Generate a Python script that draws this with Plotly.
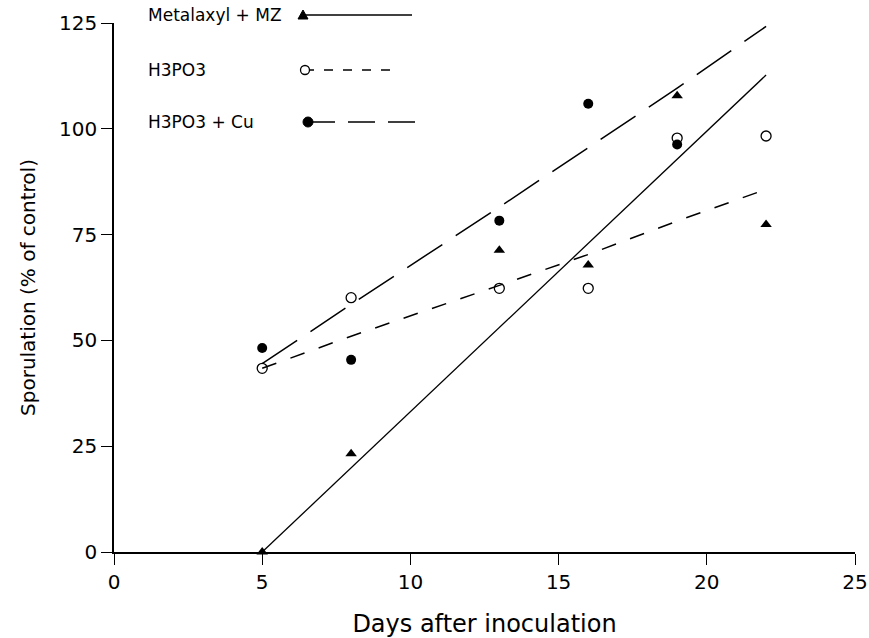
import plotly.graph_objects as go

# ---- data ----
days = [5, 8, 13, 16, 19, 22]
metalaxyl = [0.0, 23.2, 71.3, 67.8, 107.8, 77.4]
h3po3 = [43.4, 60.1, 62.3, 62.3, 97.8, 98.3]
h3po3_cu = [48.2, 45.4, 78.3, 105.9, 96.3, 125.9]

# fitted curves as drawn in the picture (read at the sampling days)
fit_days = [5, 8, 13, 16, 19, 22]
metalaxyl_fit = [0.0, 19.9, 53.0, 72.9, 92.8, 112.7]
h3po3_fit = [43.4, 51.0, 63.0, 70.3, 78.2, 85.7]
h3po3_cu_fit = [44.5, 58.5, 81.5, 95.5, 109.6, 124.2]

x_ticks = [0, 5, 10, 15, 20, 25]
y_ticks = [0, 25, 50, 75, 100, 125]

names = ["Metalaxyl + MZ", "H3PO3", "H3PO3 + Cu"]

FONT = "DejaVu Sans"
W, H = 869, 638
L, R, T, B = 114, 855, 23, 552


def px_x(p):
    return (p - L) / (R - L)


def px_y(p):
    return (B - p) / (B - T)


fig = go.Figure()

# fit lines
fig.add_trace(go.Scatter(x=fit_days, y=metalaxyl_fit, mode="lines",
                         line=dict(color="black", width=1.3), cliponaxis=False, showlegend=False))
fig.add_trace(go.Scatter(x=fit_days, y=h3po3_fit, mode="lines",
                         line=dict(color="black", width=1.5, dash="15px,15px"), cliponaxis=False, showlegend=False))
fig.add_trace(go.Scatter(x=fit_days, y=h3po3_cu_fit, mode="lines",
                         line=dict(color="black", width=1.5, dash="42px,16px"), cliponaxis=False, showlegend=False))

# points
fig.add_trace(go.Scatter(x=days, y=metalaxyl, mode="markers", cliponaxis=False, showlegend=False,
                         marker=dict(symbol="triangle-up", size=10, color="black")))
fig.add_trace(go.Scatter(x=days, y=h3po3, mode="markers", cliponaxis=False, showlegend=False,
                         marker=dict(symbol="circle-open", size=10, color="black", line=dict(width=1.3))))
fig.add_trace(go.Scatter(x=days, y=h3po3_cu, mode="markers", cliponaxis=False, showlegend=False,
                         marker=dict(symbol="circle", size=10, color="black")))

# ---- hand-drawn legend (text left of the sample), positioned in page pixels ----
leg_y = [15, 70, 122]
leg_marker_x = [303, 305, 308]
leg_line_end = [412, 398, 420]
leg_dash = ["solid", "9px,10px", "27px,13px"]
shapes = []
for i in range(3):
    shapes.append(dict(type="line", xref="paper", yref="paper",
                       x0=px_x(leg_marker_x[i]), x1=px_x(leg_line_end[i]),
                       y0=px_y(leg_y[i]), y1=px_y(leg_y[i]),
                       line=dict(color="black", width=1.5, dash=leg_dash[i])))
    fig.add_annotation(x=px_x(146), y=px_y(leg_y[i]), xref="paper", yref="paper", text=names[i],
                       showarrow=False, xanchor="left", yanchor="middle",
                       font=dict(family=FONT, size=17, color="black"))
# legend symbols: triangle, open circle, filled circle
shapes.append(dict(type="path", xref="paper", yref="paper", xsizemode="pixel", ysizemode="pixel",
                   xanchor=px_x(leg_marker_x[0]), yanchor=px_y(leg_y[0]),
                   path="M -5,-4 L 5,-4 L 0,5 Z", fillcolor="black", line=dict(color="black", width=1)))
shapes.append(dict(type="circle", xref="paper", yref="paper", xsizemode="pixel", ysizemode="pixel",
                   xanchor=px_x(leg_marker_x[1]), yanchor=px_y(leg_y[1]), x0=-4.5, x1=4.5, y0=-4.5, y1=4.5,
                   fillcolor="white", line=dict(color="black", width=1.3)))
shapes.append(dict(type="circle", xref="paper", yref="paper", xsizemode="pixel", ysizemode="pixel",
                   xanchor=px_x(leg_marker_x[2]), yanchor=px_y(leg_y[2]), x0=-5, x1=5, y0=-5, y1=5,
                   fillcolor="black", line=dict(color="black", width=1)))

axis_common = dict(showgrid=False, zeroline=False, showline=True, linecolor="black", linewidth=1.5,
                   ticks="outside", ticklen=11, tickwidth=1.3, tickcolor="black",
                   tickfont=dict(family=FONT, size=20, color="black"), automargin=False)

fig.update_layout(
    width=W, height=H,
    margin=dict(l=L, r=W - R, t=T, b=H - B, pad=0),
    paper_bgcolor="white", plot_bgcolor="white",
    shapes=shapes,
    xaxis=dict(range=[0, 25], tickvals=x_ticks, ticktext=[str(v) for v in x_ticks],
               title=dict(text="Days after inoculation", standoff=26,
                          font=dict(family=FONT, size=24, color="black")),
               **axis_common),
    yaxis=dict(range=[0, 125], tickvals=y_ticks, ticktext=[str(v) for v in y_ticks],
               title=dict(text="Sporulation (% of control)", standoff=18,
                          font=dict(family=FONT, size=20, color="black")),
               **axis_common),
)

fig.write_html("out.html", config={"displayModeBar": False},
               post_script="document.body.style.margin='0';")
